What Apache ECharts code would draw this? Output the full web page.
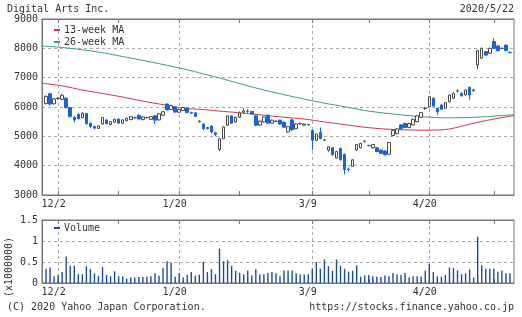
<!DOCTYPE html>
<html><head><meta charset="utf-8">
<script src="https://cdn.jsdelivr.net/npm/echarts@6/dist/echarts.min.js"></script>
<style>html,body{margin:0;padding:0;background:#fff}#c{width:522px;height:317px}</style>
</head><body><div id="c"></div>
<script>
const dates = ['11/27','11/28','11/29',
'12/2','12/3','12/4','12/5','12/6','12/9','12/10','12/11','12/12','12/13','12/16','12/17','12/18','12/19','12/20','12/23','12/24','12/25','12/26','12/27','12/30',
'1/6','1/7','1/8','1/9','1/10','1/14','1/15','1/16','1/17','1/20','1/21','1/22','1/23','1/24','1/27','1/28','1/29','1/30','1/31',
'2/3','2/4','2/5','2/6','2/7','2/10','2/12','2/13','2/14','2/17','2/18','2/19','2/20','2/21','2/25','2/26','2/27','2/28',
'3/2','3/3','3/4','3/5','3/6','3/9','3/10','3/11','3/12','3/13','3/16','3/17','3/18','3/19','3/23','3/24','3/25','3/26','3/27','3/30','3/31',
'4/1','4/2','4/3','4/6','4/7','4/8','4/9','4/10','4/13','4/14','4/15','4/16','4/17','4/20','4/21','4/22','4/23','4/24','4/27','4/28','4/30',
'5/1','5/7','5/8','5/11','5/12','5/13','5/14','5/15','5/18','5/19','5/20','5/21','5/22'];
const opens = [6120,6450,6110,6290,6260,6300,5980,5650,5750,5640,5780,5450,5340,5270,5420,5560,5400,5480,5590,5450,
5530,5570,5640,5720,5570,5640,5580,5700,5560,5720,6100,5920,6000,5820,5880,5960,5810,5800,5520,5420,
5260,5350,5120,4550,4920,5380,5700,5490,5650,5820,5860,5850,5700,5380,5490,5720,5450,5520,5550,5480,
5150,5560,5260,5430,5380,5400,5200,4860,5140,4880,4530,4610,4260,4590,4390,3880,3980,4530,4610,4830,
4690,4610,4610,4530,4500,4390,5030,5090,5390,5440,5300,5390,5500,5650,5950,6010,6300,5950,6070,5955,
6180,6300,6540,6470,6410,6670,6560,7430,7660,7890,7830,8230,8080,8000,8110,7860];
const closes = [6360,6100,6280,6300,6400,5980,5680,5560,5600,5790,5430,5340,5280,5350,5640,5430,5500,5580,5450,5560,
5620,5670,5630,5590,5660,5640,5670,5550,5770,5840,5900,6050,5830,5920,5980,5810,5790,5680,5500,5260,
5300,5150,5060,4920,5320,5700,5450,5650,5800,5870,5850,5760,5380,5520,5660,5450,5550,5510,5420,5310,
5330,5220,5420,5440,5420,5390,4870,5080,4920,4870,4640,4370,4480,4200,3870,3870,4200,4720,4760,4830,
4680,4720,4480,4420,4370,4790,5200,5255,5260,5300,5440,5580,5700,5810,5960,6350,6030,5840,5920,6150,
6410,6470,6545,6380,6580,6410,6580,7920,8000,7770,8000,8000,7920,8000,7920,7850];
const lows = [6080,6050,6080,6250,6230,5950,5640,5480,5580,5620,5400,5280,5240,5250,5400,5410,5380,5460,5430,5430,
5510,5550,5600,5570,5550,5610,5560,5420,5540,5700,5880,5900,5800,5800,5860,5790,5770,5660,5460,5220,
5240,5100,5000,4500,4900,5360,5430,5470,5630,5790,5800,5740,5350,5360,5470,5430,5430,5490,5400,5290,
5130,5200,5240,5400,5360,5360,4530,4840,4900,4840,4480,4350,4240,4180,3700,3800,3960,4510,4590,4790,
4660,4590,4460,4400,4350,4370,5010,5070,5240,5280,5280,5370,5480,5630,5900,5990,6010,5730,5900,5940,
6160,6280,6500,6360,6390,6250,6520,7280,7640,7750,7810,7980,7900,7980,7900,7830];
const highs = [6400,6480,6300,6330,6450,6330,6000,5700,5780,5820,5800,5470,5360,5370,5660,5580,5520,5600,5600,5580,
5640,5690,5670,5740,5680,5670,5690,5720,5790,5860,6130,6080,6020,5940,6000,5980,5840,5820,5560,5440,
5320,5370,5150,4950,5340,5720,5720,5670,5850,5960,5920,5870,5720,5540,5680,5740,5570,5540,5570,5500,
5350,5600,5440,5470,5440,5420,5220,5100,5300,4900,4660,4630,4500,4610,4410,3930,4220,4740,4780,4870,
4710,4740,4630,4550,4520,4810,5220,5280,5410,5460,5460,5600,5720,5830,6010,6370,6320,5970,6090,6170,
6430,6490,6600,6490,6600,6690,6620,7950,8030,7910,8020,8340,8100,8020,8130,7900];
const volumes = [0.34,0.37,0.16,0.19,0.26,0.63,0.41,0.41,0.21,0.21,0.40,0.33,0.23,0.17,0.38,0.19,0.16,0.28,0.16,0.16,
0.10,0.13,0.13,0.14,0.14,0.15,0.16,0.23,0.17,0.36,0.52,0.48,0.15,0.24,0.13,0.19,0.26,0.18,0.20,0.51,
0.26,0.33,0.21,0.82,0.52,0.54,0.41,0.29,0.24,0.21,0.30,0.18,0.33,
0.20,0.21,0.24,0.26,0.23,0.16,0.30,0.30,0.30,0.23,0.20,0.20,0.21,0.34,0.50,0.34,0.56,0.40,0.29,0.56,
0.41,0.34,0.27,0.29,0.42,0.15,0.18,0.19,0.16,0.15,0.14,0.18,0.16,0.24,0.20,0.19,0.24,0.13,0.16,0.16,
0.15,0.29,0.45,0.26,0.16,0.15,0.19,0.37,0.36,0.30,0.21,0.23,0.32,0.13,1.10,0.42,0.34,0.34,0.34,0.27,
0.30,0.23,0.23];
// moving averages read at sample positions (slot index incl. one padding slot at each end)
const maPos = [0,5,10,15,20,25,30,35,40,45,50,55,60,65,70,75,80,85,90,95,100,105,110,117];
const ma13 = [6810,6720,6580,6460,6340,6200,6080,5960,5910,5850,5790,5720,5650,5590,5490,5400,5310,5250,5220,5210,5230,5380,5535,5710];
const ma26 = [8080,8030,7950,7850,7720,7590,7450,7300,7130,6950,6760,6580,6420,6270,6130,6010,5880,5790,5720,5660,5630,5640,5670,5740];
const majorLabels = ['12/2','1/20','3/9','4/20'];
const minorTicks = ['12/23','2/10','3/30','5/18'];
const priceTicks = [3000,9000,1000];
const volTicks = [0,1.5,0.5];

const cats = [''].concat(dates, [' ']);
const FONT = 'DejaVu Sans Mono';
const TXT = '#333';
const candleData = dates.map((d,k)=>[k+1, opens[k], closes[k], lows[k], highs[k]]);
const volData = dates.map((d,k)=>[k+1, volumes[k]]);
const ma13Data = maPos.map((p,k)=>[p, ma13[k]]);
const ma26Data = maPos.map((p,k)=>[p, ma26[k]]);
const isMajor = (i,v)=>majorLabels.indexOf(v)>=0;
const isTick = (i,v)=>majorLabels.indexOf(v)>=0 || minorTicks.indexOf(v)>=0;

function xAx(grid, pos, labels){
  return {type:'category', gridIndex:grid, position:pos, data:cats, boundaryGap:false,
    axisLine:{show:true, lineStyle:{color:'#777',width:1}},
    axisTick:{show:true, inside:true, length:4, interval:isTick, lineStyle:{color:'#777'}},
    axisLabel:{show:labels, interval:isMajor, fontFamily:FONT, fontSize:10, color:TXT, margin:4, padding:[0,9,0,0]},
    splitLine:{show:pos==='bottom', interval:isMajor, lineStyle:{color:'#aaa', type:[3,3], width:1}}
  };
}
const plain = v => String(v);
const chart = echarts.init(document.getElementById('c'), null, {renderer:'canvas'});
chart.setOption({
  animation:false,
  backgroundColor:'#fff',
  grid:[
    {left:42, right:8, top:19, height:176, show:true, borderColor:'#777', borderWidth:1},
    {left:42, right:8, top:220, height:63, show:true, borderColor:'#777', borderWidth:1}
  ],
  xAxis:[xAx(0,'bottom',true), xAx(0,'top',false), xAx(1,'bottom',true), xAx(1,'top',false)],
  yAxis:[
    {type:'value', gridIndex:0, min:priceTicks[0], max:priceTicks[1], interval:priceTicks[2],
     axisLine:{show:true, lineStyle:{color:'#777'}}, axisTick:{show:false},
     axisLabel:{fontFamily:FONT, fontSize:10, color:TXT, margin:4, formatter:plain},
     splitLine:{show:true, lineStyle:{color:'#aaa', type:[3,3]}}},
    {type:'value', gridIndex:1, min:volTicks[0], max:volTicks[1], interval:volTicks[2],
     axisLine:{show:true, lineStyle:{color:'#777'}}, axisTick:{show:false},
     axisLabel:{fontFamily:FONT, fontSize:10, color:TXT, margin:4, formatter:plain},
     splitLine:{show:true, lineStyle:{color:'#aaa', type:[3,3]}}}
  ],
  legend:[
    {data:['13-week MA','26-week MA'], orient:'vertical', left:54, top:24, padding:0, itemGap:0,
     itemWidth:6, itemHeight:2, icon:'rect', selectedMode:false,
     textStyle:{fontFamily:FONT, fontSize:10, color:TXT, lineHeight:12, padding:[0,0,0,-1]}},
    {data:['Volume'], orient:'vertical', left:54, top:222, padding:0, itemGap:0,
     itemWidth:6, itemHeight:2, icon:'rect', selectedMode:false,
     textStyle:{fontFamily:FONT, fontSize:10, color:TXT, lineHeight:12, padding:[0,0,0,-1]}}
  ],
  series:[
    {name:'26-week MA', type:'line', xAxisIndex:0, yAxisIndex:0, data:ma26Data, showSymbol:false,
     smooth:0.3, lineStyle:{color:'#3a9e70', width:1}, itemStyle:{color:'#3a9e70'}, z:2},
    {name:'13-week MA', type:'line', xAxisIndex:0, yAxisIndex:0, data:ma13Data, showSymbol:false,
     smooth:0.3, lineStyle:{color:'#c63a4c', width:1}, itemStyle:{color:'#c63a4c'}, z:2},
    {name:'Price', type:'candlestick', xAxisIndex:0, yAxisIndex:0, data:candleData,
     encode:{x:0, y:[1,2,3,4]}, barWidth:3, z:3,
     itemStyle:{color:'#ffffff', color0:'#1764d4', borderColor:'#4a4a4a', borderColor0:'#1764d4', borderColorDoji:'#4a4a4a', borderWidth:1}},
    {name:'Volume', type:'bar', xAxisIndex:2, yAxisIndex:1, data:volData, barWidth:1.4,
     itemStyle:{color:'#1c4c96'}}
  ],
  graphic:[
    {type:'text', x:7, y:9, style:{text:'Digital Arts Inc.', font:'10px "DejaVu Sans Mono"', fill:TXT, textVerticalAlign:'middle'}},
    {type:'text', x:514, y:9, style:{text:'2020/5/22', font:'10px "DejaVu Sans Mono"', fill:TXT, textAlign:'right', textVerticalAlign:'middle'}},
    {type:'text', x:7, y:307, style:{text:'(C) 2020 Yahoo Japan Corporation.', font:'10px "DejaVu Sans Mono"', fill:TXT, textVerticalAlign:'middle'}},
    {type:'text', x:514, y:307, style:{text:'https://stocks.finance.yahoo.co.jp', font:'10px "DejaVu Sans Mono"', fill:TXT, textAlign:'right', textVerticalAlign:'middle'}},
    {type:'text', x:9, y:267, rotation:Math.PI/2, style:{text:'(x1000000)', font:'10px "DejaVu Sans Mono"', fill:TXT, textAlign:'center', textVerticalAlign:'middle'}}
  ]
});
</script></body></html>
